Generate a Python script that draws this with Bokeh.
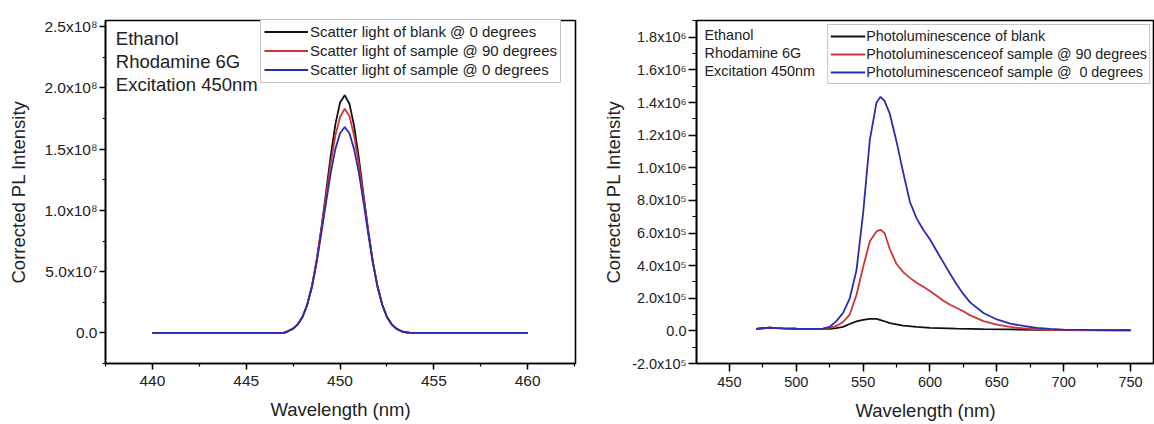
from bokeh.plotting import figure
from bokeh.layouts import row
from bokeh.models import FixedTicker, Label, Legend, LegendItem, Range1d
from bokeh.embed import file_html
from bokeh.resources import INLINE

# ---------------- Left panel data (scatter light) ----------------
scatter_x = [440.0, 447.0, 447.25, 447.5, 447.75, 448.0, 448.25, 448.5, 448.75, 449.0,
             449.25, 449.5, 449.75, 450.0, 450.25, 450.5, 450.75, 451.0, 451.25, 451.5,
             451.75, 452.0, 452.25, 452.5, 452.75, 453.0, 453.25, 453.5, 453.75, 460.0]
# intensities in units of 1e8
scatter_blank_0 = [0, 0, 0.015, 0.035, 0.07, 0.13, 0.23, 0.38, 0.59, 0.85, 1.14, 1.44, 1.70, 1.88, 1.94,
                   1.87, 1.69, 1.43, 1.13, 0.84, 0.58, 0.38, 0.23, 0.13, 0.07, 0.035, 0.015, 0.005, 0, 0]
scatter_sample_90 = [0, 0, 0.015, 0.035, 0.07, 0.13, 0.23, 0.38, 0.59, 0.84, 1.11, 1.38, 1.61, 1.76, 1.83,
                     1.77, 1.61, 1.38, 1.11, 0.83, 0.58, 0.38, 0.23, 0.13, 0.07, 0.035, 0.015, 0.005, 0, 0]
scatter_sample_0 = [0, 0, 0.015, 0.035, 0.07, 0.13, 0.23, 0.37, 0.57, 0.81, 1.06, 1.30, 1.50, 1.63, 1.68,
                    1.63, 1.50, 1.31, 1.07, 0.81, 0.57, 0.37, 0.23, 0.13, 0.07, 0.035, 0.015, 0.005, 0, 0]
scatter_names = ["Scatter light of blank @ 0 degrees",
                 "Scatter light of sample @ 90 degrees",
                 "Scatter light of sample @ 0 degrees"]
left_yticks = [0.0, 5.0e7, 1.0e8, 1.5e8, 2.0e8, 2.5e8]
left_ytick_labels = ["0.0", "5.0x10\u2077", "1.0x10\u2078", "1.5x10\u2078", "2.0x10\u2078", "2.5x10\u2078"]
left_xticks = [440, 445, 450, 455, 460]

# ---------------- Right panel data (photoluminescence) ----------------
pl_x = [470, 475, 480, 485, 490, 500, 510, 520, 525, 530, 535, 540, 545, 550, 555, 560, 563, 566,
        570, 575, 580, 585, 590, 595, 600, 605, 610, 615, 620, 625, 630, 640, 650, 660, 670, 680,
        690, 700, 720, 740, 750]
# intensities in units of 1e5
pl_sample_0 = [0.12, 0.16, 0.20, 0.17, 0.15, 0.13, 0.12, 0.14, 0.25, 0.6, 1.1, 2.0, 3.7, 7.2, 11.7, 14.0,
               14.35, 14.1, 13.3, 11.6, 9.7, 7.9, 6.9, 6.2, 5.6, 4.9, 4.2, 3.5, 2.85, 2.25, 1.75, 1.1,
               0.70, 0.45, 0.30, 0.18, 0.12, 0.08, 0.06, 0.05, 0.05]
pl_sample_90 = [0.12, 0.16, 0.20, 0.17, 0.15, 0.13, 0.12, 0.13, 0.18, 0.30, 0.55, 1.0, 2.2, 3.9, 5.5, 6.1,
                6.2, 6.0, 5.0, 4.1, 3.6, 3.25, 2.95, 2.7, 2.45, 2.15, 1.85, 1.6, 1.4, 1.2, 0.95, 0.6,
                0.38, 0.24, 0.15, 0.10, 0.07, 0.05, 0.04, 0.04, 0.04]
pl_blank_x = [470, 475, 480, 485, 490, 500, 510, 520, 525, 530, 535, 540, 545, 550, 555, 560, 565, 570,
              580, 590, 600, 620, 640, 660, 680, 700, 720, 750]
pl_blank = [0.12, 0.16, 0.20, 0.17, 0.15, 0.13, 0.12, 0.12, 0.13, 0.17, 0.25, 0.42, 0.58, 0.68, 0.74,
            0.73, 0.62, 0.48, 0.32, 0.24, 0.19, 0.14, 0.11, 0.09, 0.07, 0.06, 0.05, 0.04]
pl_names = ["Photoluminescence of blank",
            "Photoluminescenceof sample @ 90 degrees",
            "Photoluminescenceof sample @  0 degrees"]
right_yticks = [-2e5, 0.0, 2e5, 4e5, 6e5, 8e5, 1.0e6, 1.2e6, 1.4e6, 1.6e6, 1.8e6]
right_ytick_labels = ["-2.0x10\u2075", "0.0", "2.0x10\u2075", "4.0x10\u2075", "6.0x10\u2075", "8.0x10\u2075",
                      "1.0x10\u2076", "1.2x10\u2076", "1.4x10\u2076", "1.6x10\u2076", "1.8x10\u2076"]
right_xticks = [450, 500, 550, 600, 650, 700, 750]

notes = ["Ethanol", "Rhodamine 6G", "Excitation 450nm"]

colors = ["#111111", "#d03535", "#2c2cae"]
FONT = "Liberation Sans"


def style(p, xticks, xminor, yticks, ylabels, yminor, tick_size, tick_len):
    p.outline_line_color = "black"
    p.outline_line_width = 1.6
    p.outline_line_alpha = 1.0
    p.xgrid.visible = False
    p.ygrid.visible = False
    p.background_fill_color = "white"
    p.border_fill_color = "white"
    p.xaxis.ticker = FixedTicker(ticks=xticks, minor_ticks=xminor)
    p.yaxis.ticker = FixedTicker(ticks=yticks, minor_ticks=yminor)
    p.yaxis.major_label_overrides = {t: l for t, l in zip(yticks, ylabels)}
    for ax in (p.xaxis[0], p.yaxis[0]):
        ax.axis_line_width = 1.6
        ax.axis_line_color = "black"
        ax.major_tick_line_width = 1.5
        ax.minor_tick_line_width = 1.2
        ax.major_tick_out = tick_len
        ax.major_tick_in = 0
        ax.minor_tick_out = tick_len // 2
        ax.minor_tick_in = 0
        ax.major_label_text_font = FONT
        ax.major_label_text_font_size = tick_size
        ax.major_label_text_color = "#222222"
        ax.axis_label_text_font = FONT
        ax.axis_label_text_font_size = "18.5px"
        ax.axis_label_text_font_style = "normal"
        ax.axis_label_text_color = "#222222"


# ---------------- Left figure ----------------
p1 = figure(width=600, height=424, output_backend="svg", toolbar_location=None,
            x_range=Range1d(437.5, 462.55), y_range=Range1d(-2.5e7, 2.55e8),
            min_border_left=105, min_border_right=25, min_border_top=16, min_border_bottom=61)
style(p1, left_xticks, [437.5 + 2.5 * i for i in range(11)], left_yticks, left_ytick_labels,
      [-2.5e7 + 2.5e7 * i for i in range(12)], "15.5px", 6)
p1.xaxis.axis_label = "Wavelength (nm)"
p1.yaxis.axis_label = "Corrected PL Intensity"
p1.yaxis.major_label_standoff = 2
p1.xaxis.major_label_standoff = 6
p1.yaxis.axis_label_standoff = 12
p1.xaxis.axis_label_standoff = 10

r_items = []
for ys, c, n in zip([scatter_blank_0, scatter_sample_90, scatter_sample_0], colors, scatter_names):
    r = p1.line(scatter_x, [v * 1e8 for v in ys], line_color=c, line_width=1.8)
    r_items.append(LegendItem(label=n, renderers=[r]))
leg1 = Legend(items=r_items, location=(155, 280), margin=0, padding=3, spacing=0,
              glyph_width=44, glyph_height=19, label_height=19, label_standoff=2,
              label_text_font=FONT, label_text_font_size="15px", label_text_color="#222222",
              border_line_color="#888888", border_line_width=1, background_fill_alpha=1)
p1.add_layout(leg1, "center")

for i, t in enumerate(notes):
    p1.add_layout(Label(x=438.05, y=2.403e8 - i * 0.187e8, text=t, text_font=FONT,
                        text_font_size="18.5px", text_color="#222222", text_baseline="middle"))

# ---------------- Right figure ----------------
p2 = figure(width=554, height=424, output_backend="svg", toolbar_location=None,
            x_range=Range1d(425.4, 767.9), y_range=Range1d(-2.0e5, 1.903e6),
            min_border_left=95, min_border_right=0, min_border_top=20, min_border_bottom=56)
style(p2, right_xticks, [425 + 25 * i for i in range(14)], right_yticks, right_ytick_labels,
      [-2e5 + 1e5 * i for i in range(22)], "14.5px", 8)
p2.xaxis.axis_label = "Wavelength (nm)"
p2.yaxis.axis_label = "Corrected PL Intensity"
p2.yaxis.major_label_standoff = 2
p2.xaxis.major_label_standoff = 5
p2.yaxis.axis_label_standoff = 5
p2.xaxis.axis_label_standoff = 10

r_items2 = []
for xs, ys, c, n in zip([pl_blank_x, pl_x, pl_x], [pl_blank, pl_sample_90, pl_sample_0], colors, pl_names):
    r = p2.line(xs, [v * 1e5 for v in ys], line_color=c, line_width=1.8)
    r_items2.append(LegendItem(label=n, renderers=[r]))
leg2 = Legend(items=r_items2, location="top_right", margin=4, padding=2, spacing=0,
              glyph_width=35, glyph_height=18, label_height=18, label_standoff=1,
              label_text_font=FONT, label_text_font_size="14.3px", label_text_color="#222222",
              border_line_color="#888888", border_line_width=1, background_fill_alpha=1)
p2.add_layout(leg2, "center")

for i, t in enumerate(notes):
    p2.add_layout(Label(x=431.4, y=1.812e6 - i * 1.09e5, text=t, text_font=FONT,
                        text_font_size="14.4px", text_color="#222222", text_baseline="middle"))

layout = row(p1, p2, spacing=0)
open("out.html", "w").write(file_html(layout, INLINE))
